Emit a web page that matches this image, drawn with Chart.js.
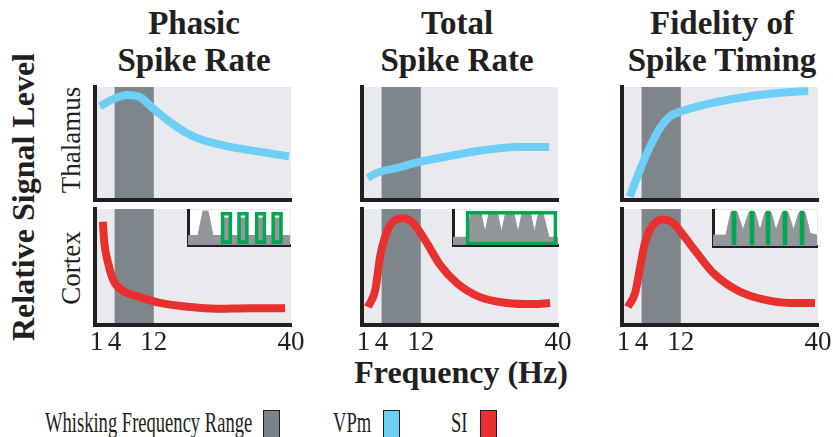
<!DOCTYPE html>
<html>
<head>
<meta charset="utf-8">
<script src="https://cdn.jsdelivr.net/npm/chart.js"></script>
<style>
  body { margin: 0; background: #fff; }
  #fig { position: relative; width: 833px; height: 437px; overflow: hidden;
         font-family: "Liberation Serif", "DejaVu Serif", serif; color: #231f20; }
  #fig canvas { position: absolute; }
  .txt { position: absolute; white-space: nowrap; line-height: 1; }
  .title { position: absolute; width: 260px; text-align: center; font-weight: bold;
           font-size: 33px; line-height: 37px; top: 5px; }
  .rot { transform: translate(-50%, -50%) rotate(-90deg); }
  .legtxt { font-size: 29px; top: 408px; transform: scaleX(0.64); transform-origin: left top; }
  .box { position: absolute; top: 410px; width: 15px; height: 30px; border: 1.5px solid #231f20; }
</style>
</head>
<body>
<div id="fig">
  <div class="title" style="left:64px">Phasic<br>Spike Rate</div>
  <div class="title" style="left:327px">Total<br>Spike Rate</div>
  <div class="title" style="left:592px">Fidelity of<br>Spike Timing</div>

  <div class="txt rot" style="left:23px; top:197px; font-size:32px; font-weight:bold">Relative Signal Level</div>
  <div class="txt rot" style="left:71px; top:140px; font-size:27px">Thalamus</div>
  <div class="txt rot" style="left:71px; top:268px; font-size:27px">Cortex</div>
  <div class="txt" style="left:461px; top:356px; font-size:32px; font-weight:bold; transform:translateX(-50%)">Frequency (Hz)</div>

  <canvas id="phasicTop"  width="236" height="128" style="left:75px;  top:80px"></canvas>
  <canvas id="totalTop"   width="236" height="128" style="left:342px; top:80px"></canvas>
  <canvas id="fidelTop"   width="236" height="128" style="left:602px; top:80px"></canvas>
  <canvas id="phasicBot"  width="236" height="168" style="left:75px;  top:202px"></canvas>
  <canvas id="totalBot"   width="236" height="168" style="left:342px; top:202px"></canvas>
  <canvas id="fidelBot"   width="236" height="168" style="left:602px; top:202px"></canvas>

  <canvas id="insetPhasic" width="118" height="46" style="left:178px; top:204px"></canvas>
  <canvas id="insetTotal"  width="121" height="46" style="left:443px; top:204px"></canvas>
  <canvas id="insetFidel"  width="120" height="47" style="left:703px; top:204px"></canvas>

  <div class="txt legtxt" style="left:45px">Whisking Frequency Range</div>
  <div class="box" style="left:263px; background:#7b8288"></div>
  <div class="txt legtxt" style="left:333px">VPm</div>
  <div class="box" style="left:383px; background:#6dcff6"></div>
  <div class="txt legtxt" style="left:451px">SI</div>
  <div class="box" style="left:480px; background:#e8312f"></div>
</div>

<script>
// ---- data ----
const freqTicks = [1, 4, 12, 40];
const whiskRange = [4, 12];

// thalamus (VPm) curves
const phasicThalHz    = [1.0, 4.1, 6.5, 9.2, 11.6, 15.3, 18.4, 21.4, 28.2, 34.7, 39.6];
const phasicThalLevel = [0.83, 0.90, 0.93, 0.91, 0.82, 0.69, 0.60, 0.54, 0.465, 0.42, 0.385];
const totalThalHz     = [1.2, 3.0, 7.8, 11.0, 18.0, 24.7, 31.6, 38.2];
const totalThalLevel  = [0.195, 0.24, 0.29, 0.33, 0.39, 0.44, 0.47, 0.47];
const fidelThalHz     = [1.6, 3.7, 5.7, 7.8, 9.8, 11.8, 16.5, 23.5, 30.2, 38.0];
const fidelThalLevel  = [0.03, 0.27, 0.47, 0.64, 0.74, 0.78, 0.84, 0.90, 0.94, 0.965];

// cortex (SI) curves
const phasicCortHz    = [1.6, 1.9, 2.7, 3.7, 5.5, 9.2, 13.3, 19.4, 24.5, 31.6, 38.8];
const phasicCortLevel = [0.89, 0.71, 0.53, 0.39, 0.30, 0.24, 0.19, 0.155, 0.14, 0.145, 0.145];
const totalCortHz     = [1.2, 2.7, 3.7, 4.7, 6.3, 8.4, 10.4, 12.9, 15.9, 19.4, 24.1, 29.6, 35.0, 38.4];
const totalCortLevel  = [0.155, 0.30, 0.59, 0.76, 0.89, 0.92, 0.88, 0.73, 0.52, 0.36, 0.24, 0.19, 0.18, 0.19];
const fidelCortHz     = [1.2, 2.7, 3.7, 4.7, 6.1, 8.4, 10.4, 12.4, 15.3, 18.6, 23.5, 28.8, 34.3, 39.4];
const fidelCortLevel  = [0.155, 0.28, 0.50, 0.71, 0.85, 0.91, 0.88, 0.78, 0.62, 0.45, 0.30, 0.22, 0.19, 0.19];

// inset response traces (time 0-100, response 0-1)
const phasicTraceT = [0, 9.8, 14.7, 19.6, 24.5, 33.8, 35.2, 40.2, 41.6, 50.0, 51.4, 56.4, 57.8, 67.2, 68.6, 73.6, 75.0, 83.4, 84.8, 89.8, 91.2, 100];
const phasicTraceV = [0.27, 0.27, 0.97, 0.97, 0.27, 0.27, 0.77, 0.77, 0.27, 0.27, 0.77, 0.77, 0.27, 0.27, 0.77, 0.77, 0.27, 0.27, 0.77, 0.77, 0.27, 0.27];
const phasicWindowT = [37.7, 53.9, 71.1, 87.3];

const totalTraceT = [0, 12.4, 17.1, 23.8, 26.7, 30.5, 34.3, 42.4, 46.2, 50.0, 58.1, 61.9, 65.7, 73.8, 77.6, 81.4, 85.7, 91.4, 100];
const totalTraceV = [0.22, 0.22, 0.92, 0.90, 0.90, 0.36, 0.90, 0.90, 0.36, 0.90, 0.90, 0.36, 0.90, 0.90, 0.36, 0.90, 0.90, 0.22, 0.22];
const totalWindowT = [55.7];

const fidelTraceT = [0, 12.5, 17.3, 23.1, 28.8, 34.6, 40.4, 45.2, 50.0, 55.8, 60.6, 66.3, 72.1, 77.4, 82.7, 88.5, 93.3, 100];
const fidelTraceV = [0.30, 0.30, 0.95, 0.95, 0.44, 0.93, 0.93, 0.44, 0.93, 0.93, 0.44, 0.93, 0.93, 0.44, 0.93, 0.93, 0.35, 0.30];
const fidelSpikeT = [20.2, 37.5, 52.9, 69.2, 85.6];

// ---- colours ----
const INK = '#231f20';
const VPM_BLUE = '#6dcff6';
const SI_RED = '#e8312f';
const WHISK_GRAY = '#7e868c';
const PANEL_BG = '#e9eaee';
const TRACE_GRAY = '#939699';
const GREEN = '#00a651';

// fills chart area + whisking band before the axes are drawn
const backdrop = {
  id: 'backdrop',
  beforeDraw(chart, args, opts) {
    const { ctx, chartArea: a, scales } = chart;
    ctx.save();
    ctx.fillStyle = opts.fill;
    ctx.fillRect(a.left, a.top, a.right - a.left, a.bottom - a.top);
    if (opts.band) {
      const x0 = scales.x.getPixelForValue(opts.band[0]);
      const x1 = scales.x.getPixelForValue(opts.band[1]);
      ctx.fillStyle = opts.bandColor;
      ctx.fillRect(x0, a.top, x1 - x0, a.bottom - a.top);
    }
    ctx.restore();
  }
};

function axis(extra, borderW) {
  return Object.assign({
    grid: { display: false, drawTicks: false },
    border: { display: true, color: INK, width: borderW },
    ticks: { display: false }
  }, extra);
}

function panel(id, hz, level, color, bottomRow) {
  new Chart(document.getElementById(id).getContext('2d'), {
    type: 'line',
    data: {
      datasets: [{
        data: hz.map((f, i) => ({ x: f, y: level[i] })),
        borderColor: color,
        borderWidth: 8,
        borderCapStyle: 'butt',
        pointRadius: 0,
        cubicInterpolationMode: 'monotone',
        fill: false
      }]
    },
    options: {
      responsive: false,
      animation: false,
      events: [],
      layout: { padding: { left: 20, right: 20, top: 7, bottom: bottomRow ? 7 : 8 } },
      plugins: {
        legend: { display: false },
        tooltip: { enabled: false },
        backdrop: { fill: PANEL_BG, band: whiskRange, bandColor: WHISK_GRAY }
      },
      scales: {
        x: axis({
          type: 'linear', min: 0, max: 40, offset: false,
          afterBuildTicks: s => { s.ticks = freqTicks.map(v => ({ value: v })); },
          afterFit: s => { s.height = bottomRow ? 38 : 0; },
          ticks: {
            display: bottomRow, autoSkip: false, maxRotation: 0, minRotation: 0,
            padding: 2, color: INK,
            font: { family: 'Liberation Serif', size: 27 },
            // nudge the "1" away from the "4" as in the original
            callback: v => (v === 1 ? '1 ' : String(v))
          }
        }, 4),
        y: axis({
          type: 'linear', min: 0, max: 1,
          afterFit: s => { s.width = 0; }
        }, 4)
      }
    },
    plugins: [backdrop]
  });
}

function inset(id, t, v, markT, markW, markRange, filled, pad) {
  new Chart(document.getElementById(id).getContext('2d'), {
    type: 'line',
    data: {
      datasets: [
        {
          type: 'bar',
          order: 0,
          data: markT.map(m => ({ x: m, y: markRange })),
          barThickness: markW,
          backgroundColor: filled ? GREEN : 'rgba(0,0,0,0)',
          borderColor: GREEN,
          borderWidth: filled ? 0 : 3,
          borderSkipped: false
        },
        {
          order: 1,
          data: t.map((x, i) => ({ x: x, y: v[i] })),
          borderColor: TRACE_GRAY,
          borderWidth: 1,
          backgroundColor: TRACE_GRAY,
          pointRadius: 0,
          tension: 0,
          fill: 'origin'
        }
      ]
    },
    options: {
      responsive: false,
      animation: false,
      events: [],
      layout: { padding: pad },
      plugins: {
        legend: { display: false },
        tooltip: { enabled: false },
        backdrop: { fill: '#ffffff' }
      },
      scales: {
        x: axis({ type: 'linear', min: 0, max: 100, offset: false, afterFit: s => { s.height = 0; } }, 3),
        y: axis({ type: 'linear', min: 0, max: 1, afterFit: s => { s.width = 0; } }, 3)
      }
    },
    plugins: [backdrop]
  });
}

panel('phasicTop', phasicThalHz, phasicThalLevel, VPM_BLUE, false);
panel('totalTop', totalThalHz, totalThalLevel, VPM_BLUE, false);
panel('fidelTop', fidelThalHz, fidelThalLevel, VPM_BLUE, false);
panel('phasicBot', phasicCortHz, phasicCortLevel, SI_RED, true);
panel('totalBot', totalCortHz, totalCortLevel, SI_RED, true);
panel('fidelBot', fidelCortHz, fidelCortLevel, SI_RED, true);

inset('insetPhasic', phasicTraceT, phasicTraceV, phasicWindowT, 11, [0.04, 0.94], false,
      { left: 10, right: 6, top: 6, bottom: 5 });
inset('insetTotal', totalTraceT, totalTraceV, totalWindowT, 91, [0.0, 0.97], false,
      { left: 10, right: 6, top: 6, bottom: 5 });
inset('insetFidel', fidelTraceT, fidelTraceV, fidelSpikeT, 4, [0.04, 0.97], true,
      { left: 10, right: 6, top: 6, bottom: 5 });
</script>
</body>
</html>
